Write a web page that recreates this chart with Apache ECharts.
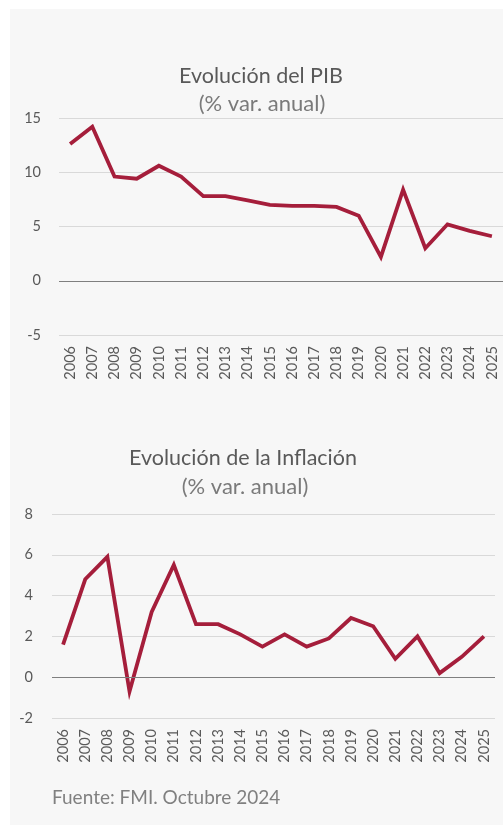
<!DOCTYPE html>
<html>
<head>
<meta charset="utf-8">
<script src="https://cdn.jsdelivr.net/npm/echarts@6/dist/echarts.min.js"></script>
<style>
  html, body { margin: 0; padding: 0; background: #fff; }
  #app { width: 503px; height: 829px; }
</style>
</head>
<body>
<div id="app"></div>
<script>
const years = ['2006','2007','2008','2009','2010','2011','2012','2013','2014','2015',
  '2016','2017','2018','2019','2020','2021','2022','2023','2024','2025']
const pib = [12.6, 14.2, 9.6, 9.4, 10.6, 9.6, 7.8, 7.8, 7.4, 7.0,
  6.9, 6.9, 6.8, 6.0, 2.2, 8.4, 3.0, 5.2, 4.6, 4.1]
const inflacion = [1.6, 4.8, 5.9, -0.7, 3.2, 5.5, 2.6, 2.6, 2.1, 1.5,
  2.1, 1.5, 1.9, 2.9, 2.5, 0.9, 2.0, 0.2, 1.0, 2.0]

const lineColor = '#a51e3b'
const font = 'Lato, "Noto Sans", sans-serif'

let myChart = echarts.init(document.getElementById('app'))

function xAxisFor(gridIndex) {
  return {
    type: 'category',
    gridIndex: gridIndex,
    data: years,
    boundaryGap: true,
    axisLine: { show: false },
    axisTick: { show: false },
    axisLabel: { rotate: 90, margin: 11, color: '#595959', fontSize: 14.5, fontFamily: font }
  }
}

function yAxisFor(gridIndex, min, max, interval, margin) {
  return {
    type: 'value',
    gridIndex: gridIndex,
    min: min, max: max, interval: interval,
    axisLine: { show: false },
    axisTick: { show: false },
    axisLabel: { margin: margin, color: '#595959', fontSize: 14.5, fontFamily: font },
    splitLine: { lineStyle: { color: '#d9d9d9', width: 1 } }
  }
}

function seriesFor(index, data) {
  return {
    type: 'line',
    xAxisIndex: index,
    yAxisIndex: index,
    data: data,
    symbol: 'none',
    lineStyle: { color: lineColor, width: 3.8, join: 'miter' },
    markLine: {
      silent: true,
      symbol: 'none',
      label: { show: false },
      lineStyle: { color: '#7f7f7f', width: 1, type: 'solid' },
      data: [{ yAxis: 0 }]
    }
  }
}

function titleAt(text, x, y, size, color, align) {
  return {
    text: text, left: x, top: y, padding: 0,
    textAlign: align || 'center', textVerticalAlign: 'middle',
    textStyle: { color: color, fontSize: size, fontWeight: 'normal', fontFamily: font }
  }
}

const option = {
  animation: false,
  graphic: [
    { type: 'rect', z: -10, shape: { x: 10, y: 9, width: 493, height: 816 }, style: { fill: '#f7f7f7' } }
  ],
  title: [
    titleAt('Evolución del PIB', 261, 76, 21.5, '#595959'),
    titleAt('(% var. anual)', 262, 104, 22, '#7a7a7a'),
    titleAt('Evolución de la Inflación', 243, 458, 21.5, '#595959'),
    titleAt('(% var. anual)', 245, 487, 22, '#7a7a7a'),
    titleAt('Fuente: FMI. Octubre 2024', 52, 798, 19, '#808080', 'left')
  ],
  grid: [
    { left: 59, top: 118, width: 450, height: 217 },
    { left: 52, top: 514, width: 443, height: 204 }
  ],
  xAxis: [xAxisFor(0), xAxisFor(1)],
  yAxis: [yAxisFor(0, -5, 15, 5, 18), yAxisFor(1, -2, 8, 2, 19)],
  series: [seriesFor(0, pib), seriesFor(1, inflacion)]
}

myChart.setOption(option)
</script>
</body>
</html>
